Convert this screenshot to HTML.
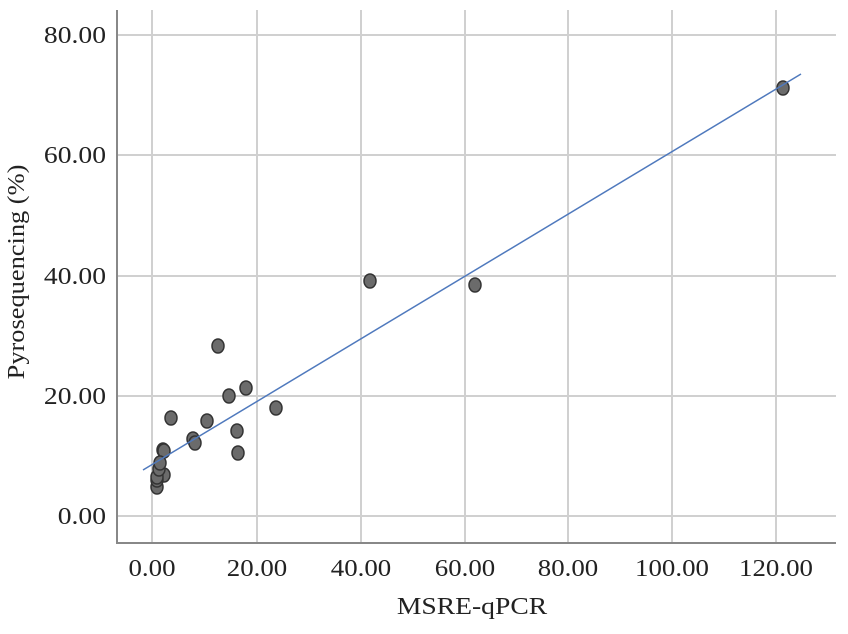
<!DOCTYPE html>
<html><head><style>body{margin:0;background:#fff}</style></head><body>
<svg width="848" height="629" xmlns="http://www.w3.org/2000/svg" font-family="Liberation Serif, serif" font-size="24" fill="#222">
<g stroke="#d0d0d0" stroke-width="2">
<line x1="117" y1="35" x2="836" y2="35"/><line x1="117" y1="155" x2="836" y2="155"/><line x1="117" y1="276" x2="836" y2="276"/><line x1="117" y1="396" x2="836" y2="396"/><line x1="117" y1="516" x2="836" y2="516"/>
<line x1="152" y1="10" x2="152" y2="543"/><line x1="257" y1="10" x2="257" y2="543"/><line x1="361" y1="10" x2="361" y2="543"/><line x1="465" y1="10" x2="465" y2="543"/><line x1="568" y1="10" x2="568" y2="543"/><line x1="672" y1="10" x2="672" y2="543"/><line x1="776" y1="10" x2="776" y2="543"/>
</g>
<polyline points="117,10 117,543 836,543" fill="none" stroke="#888" stroke-width="2"/>
<g text-anchor="end" transform="translate(106,0) scale(1.15,1)">
<text x="0" y="43">80.00</text><text x="0" y="163">60.00</text><text x="0" y="284">40.00</text><text x="0" y="404">20.00</text><text x="0" y="524">0.00</text>
</g>
<g text-anchor="middle">
<text transform="translate(152,576) scale(1.12,1)">0.00</text><text transform="translate(257,576) scale(1.12,1)">20.00</text><text transform="translate(361,576) scale(1.12,1)">40.00</text><text transform="translate(465,576) scale(1.12,1)">60.00</text><text transform="translate(568,576) scale(1.12,1)">80.00</text><text transform="translate(672,576) scale(1.12,1)">100.00</text><text transform="translate(776,576) scale(1.12,1)">120.00</text>
<text transform="translate(472,614) scale(1.15,1)">MSRE-qPCR</text>
<text transform="translate(24,272) rotate(-90) scale(1.1,1)">Pyrosequencing (%)</text>
</g>
<g fill="#6b6b6b" stroke="#333" stroke-width="1.5">
<ellipse cx="218" cy="346" rx="6" ry="7"/><ellipse cx="246" cy="388" rx="6" ry="7"/><ellipse cx="229" cy="396" rx="6" ry="7"/><ellipse cx="276" cy="408" rx="6" ry="7"/><ellipse cx="171" cy="418" rx="6" ry="7"/><ellipse cx="207" cy="421" rx="6" ry="7"/><ellipse cx="237" cy="431" rx="6" ry="7"/><ellipse cx="193" cy="439" rx="6" ry="7"/><ellipse cx="195" cy="443" rx="6" ry="7"/><ellipse cx="238" cy="453" rx="6" ry="7"/><ellipse cx="163" cy="450" rx="6" ry="7"/><ellipse cx="164" cy="451" rx="6" ry="7"/><ellipse cx="164" cy="475" rx="6" ry="7"/><ellipse cx="157" cy="487" rx="6" ry="7"/><ellipse cx="157" cy="480" rx="6" ry="7"/><ellipse cx="157" cy="477" rx="6" ry="7"/><ellipse cx="159" cy="469" rx="6" ry="7"/><ellipse cx="160" cy="463" rx="6" ry="7"/>
<ellipse cx="370" cy="281" rx="6" ry="7"/><ellipse cx="475" cy="285" rx="6" ry="7"/><ellipse cx="783" cy="88" rx="6" ry="7"/>
</g>
<line x1="143" y1="470" x2="801" y2="74" stroke="#4f79bd" stroke-width="1.5"/>
</svg>
</body></html>
